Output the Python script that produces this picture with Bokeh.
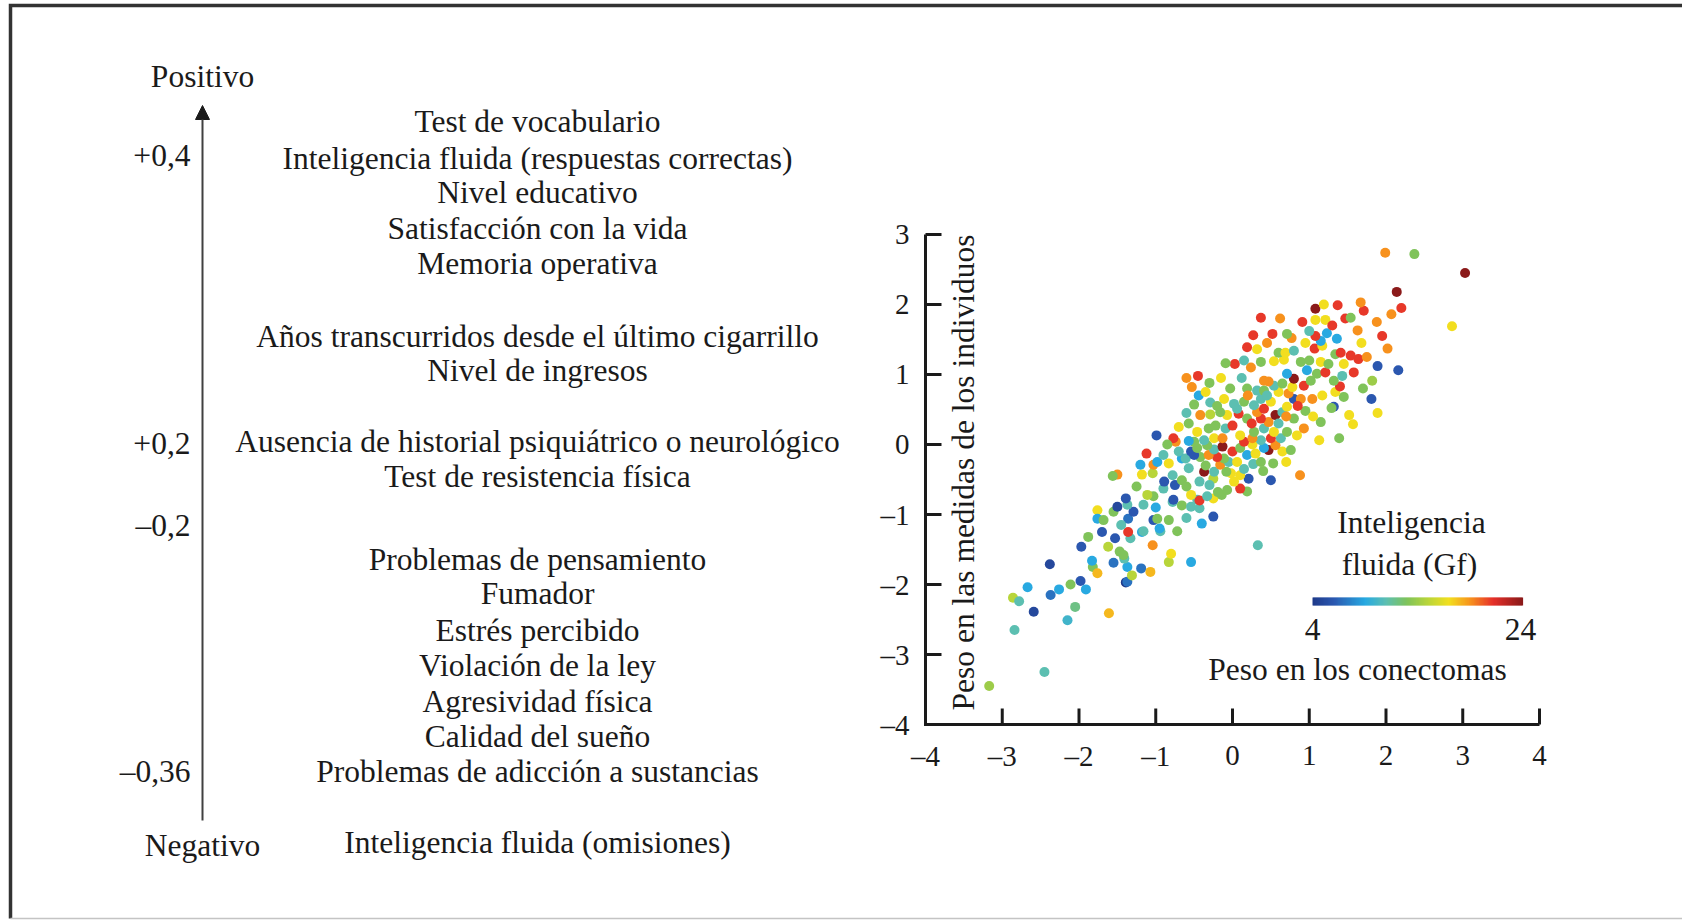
from math import pi

import numpy as np
from bokeh.core.properties import value
from bokeh.embed import file_html
from bokeh.models import Arrow, ColumnDataSource, NormalHead, Range1d
from bokeh.plotting import figure
from bokeh.resources import INLINE
from bokeh.transform import linear_cmap

# ---------------------------------------------------------------- data
traits = [
    "Test de vocabulario",
    "Inteligencia fluida (respuestas correctas)",
    "Nivel educativo",
    "Satisfacción con la vida",
    "Memoria operativa",
    "Años transcurridos desde el último cigarrillo",
    "Nivel de ingresos",
    "Ausencia de historial psiquiátrico o neurológico",
    "Test de resistencia física",
    "Problemas de pensamiento",
    "Fumador",
    "Estrés percibido",
    "Violación de la ley",
    "Agresividad física",
    "Calidad del sueño",
    "Problemas de adicción a sustancias",
    "Inteligencia fluida (omisiones)",
]
scale_labels = ["+0,4", "+0,2", "–0,2", "–0,36"]
pole_labels = ["Positivo", "Negativo"]

# connectome weight (x), weight in individual measures (y), fluid intelligence (colour)
conn_weight = [
    -3.17, -2.45, -2.84, -2.86, -2.78, -2.59, -2.67, -2.38, -2.37, -2.26,
    -2.11, -1.98, -1.91, -2.05, -2.15, -1.82, -1.83, -1.76, -1.61, -1.55,
    -1.39, -1.37, -1.37, -1.31, -1.19, -1.07, -0.83, -0.54, -1.41, -1.97,
    -1.88, -1.62, -1.47, -1.42, -0.80, 0.33, -1.53, -1.33, -1.18, -1.04,
    -1.36, -1.16, -0.94, -0.72, -0.95, -0.40, -1.76, -1.76, -1.68, -1.36,
    -1.03, -0.98, -0.83, -0.25, -1.29, -1.55, -1.50, -1.37, -1.16, -0.66,
    -0.54, -0.43, -1.39, -0.78, -0.77, -0.46, -0.43, -0.25, -0.33, -1.03,
    -1.11, -0.54, -0.14, -0.19, -0.07, 0.19, 0.10, -0.90, -0.75, -0.89,
    -0.66, -0.43, 0.02, 0.21, 0.50, -0.25, -1.50, -1.56, -1.18, -1.04,
    -0.78, 0.10, 0.88, -0.02, -0.08, -0.37, -0.24, -0.57, -1.20, -1.03,
    -0.16, 0.27, 0.53, -0.83, -0.98, -0.05, 0.06, 0.37, -0.66, -0.61,
    -0.11, -0.42, -0.20, -0.50, -0.31, 0.19, -1.12, 0.30, -0.54, -0.70,
    0.65, 0.00, 0.47, 0.76, -0.24, -0.46, 0.10, 0.41, -0.13, -0.33,
    0.56, 0.26, 0.15, -0.74, -0.50, -0.57, 0.37, -0.37, 1.13, 0.26,
    0.50, 0.63, -0.24, -0.13, -0.77, 1.39, -0.99, 0.10, 0.84, -0.46,
    0.28, 0.54, 0.71, -0.31, -0.09, 0.41, 0.93, -0.22, 0.00, 1.57,
    -0.57, 0.47, 1.15, 0.19, 0.37, 0.80, -0.42, -0.07, 0.56, 1.52,
    -0.29, 0.08, 1.89, -0.16, 0.32, 0.65, 0.06, 0.41, 0.71, 1.32,
    1.29, 0.28, -0.50, 0.02, -0.29, 0.15, 0.50, -0.11, 0.37, 0.80,
    0.89, 1.04, 1.81, 1.45, -0.44, 1.17, 0.73, -0.35, 0.60, 1.34,
    0.32, 0.41, -0.03, 0.19, -0.53, 0.78, 1.40, 0.54, 0.93, 0.65,
    0.47, 0.41, 1.02, 1.32, 1.82, 0.80, 1.43, 0.71, 1.10, 1.21,
    1.58, 0.97, 2.16, 0.24, 1.89, 0.03, -0.09, 0.37, 0.89, 1.15,
    0.54, 1.00, 0.67, 1.64, 1.54, 1.34, 0.60, 0.69, 1.41, 0.80,
    0.32, 1.07, 2.02, 0.19, 1.17, 1.68, 1.15, 1.36, 0.77, 1.08,
    0.27, 0.52, 0.71, 1.23, 1.63, 2.86, 0.91, 1.88, 1.08, 1.21,
    1.47, 0.37, 1.54, 2.07, 1.71, 1.08, 2.20, 1.37, 1.19, 1.67,
    2.14, 3.03, 2.37, 1.99,
    -0.60, -0.45, -0.30, -0.15, 0.12, 0.25, 0.60, 0.70, 0.95, 1.05,
    0.85, 0.45, 0.20, -0.20, -0.60, -0.70, -0.85, -0.90, -0.35, 0.15,
    0.40, 0.70, -0.60, -0.30, -1.00, -1.25, -1.45, -0.60, -1.70, 0.95,
    1.25, 0.45, 1.00, 1.30, 0.62, 1.45, 1.75, 1.70, 1.95, 0.15,
]
indiv_weight = [
    -3.45, -3.25, -2.65, -2.19, -2.24, -2.39, -2.04, -1.71, -2.15, -2.07,
    -2.00, -1.95, -2.07, -2.32, -2.51, -1.75, -1.66, -1.84, -2.41, -1.69,
    -1.97, -1.96, -1.75, -1.87, -1.77, -1.82, -1.68, -1.68, -1.63, -1.46,
    -1.32, -1.46, -1.53, -1.58, -1.56, -1.44, -1.34, -1.34, -1.25, -1.44,
    -1.25, -1.24, -1.24, -1.24, -1.20, -1.13, -0.94, -1.06, -1.08, -1.06,
    -1.08, -1.06, -1.08, -1.03, -0.96, -0.96, -0.89, -0.86, -0.86, -0.87,
    -0.89, -0.91, -0.77, -0.82, -0.79, -0.79, -0.80, -0.77, -0.74, -0.74,
    -0.72, -0.72, -0.72, -0.68, -0.65, -0.67, -0.63, -0.63, -0.58, -0.53,
    -0.51, -0.53, -0.53, -0.49, -0.51, -0.49, -0.43, -0.45, -0.43, -0.41,
    -0.44, -0.44, -0.44, -0.41, -0.39, -0.39, -0.39, -0.34, -0.29, -0.29,
    -0.29, -0.28, -0.27, -0.27, -0.25, -0.25, -0.25, -0.25, -0.20, -0.20,
    -0.20, -0.18, -0.18, -0.15, -0.15, -0.15, -0.13, -0.13, -0.10, -0.10,
    -0.10, -0.10, -0.08, -0.08, -0.07, -0.05, -0.05, -0.05, -0.03, -0.01,
    -0.01, 0.00, 0.04, 0.04, 0.04, 0.05, 0.06, 0.06, 0.06, 0.09,
    0.09, 0.09, 0.09, 0.09, 0.09, 0.09, 0.13, 0.13, 0.13, 0.18,
    0.18, 0.18, 0.18, 0.23, 0.23, 0.23, 0.23, 0.27, 0.27, 0.29,
    0.30, 0.32, 0.32, 0.37, 0.37, 0.37, 0.42, 0.42, 0.42, 0.42,
    0.43, 0.44, 0.45, 0.46, 0.46, 0.46, 0.51, 0.51, 0.54, 0.54,
    0.52, 0.56, 0.57, 0.58, 0.60, 0.61, 0.61, 0.65, 0.65, 0.65,
    0.65, 0.65, 0.65, 0.68, 0.70, 0.70, 0.73, 0.75, 0.75, 0.75,
    0.77, 0.77, 0.80, 0.80, 0.82, 0.82, 0.83, 0.84, 0.84, 0.87,
    0.90, 0.91, 0.91, 0.91, 0.91, 0.94, 0.98, 1.01, 1.01, 1.03,
    1.03, 1.06, 1.06, 1.10, 1.12, 1.15, 1.16, 1.18, 1.18, 1.18,
    1.19, 1.20, 1.21, 1.22, 1.27, 1.29, 1.31, 1.31, 1.31, 1.34,
    1.36, 1.37, 1.37, 1.39, 1.41, 1.45, 1.48, 1.51, 1.52, 1.55,
    1.56, 1.58, 1.58, 1.59, 1.63, 1.69, 1.75, 1.75, 1.78, 1.78,
    1.80, 1.81, 1.81, 1.86, 1.91, 1.94, 1.95, 1.99, 2.00, 2.03,
    2.18, 2.45, 2.72, 2.74,
    0.95, 0.98, 0.88, 0.95, 0.95, 0.30, 0.30, 0.40, 0.48, 0.40,
    0.55, 0.70, 0.70, 0.55, 0.45, 0.25, 0.00, -0.15, -0.30, -0.35,
    -0.38, -0.25, -0.60, -0.58, -0.90, -0.60, -1.15, -1.05, -1.25, 1.45,
    1.15, 1.45, 1.62, 1.70, 1.80, 1.15, 1.25, 0.80, 1.55, 1.20,
]
gf_score = [
    14, 11, 11, 15, 11, 5, 9, 5, 7, 9,
    13, 6, 9, 12, 10, 13, 9, 18, 18, 7,
    4, 7, 9, 15, 7, 18, 15, 9, 11, 6,
    13, 15, 13, 13, 17, 11, 6, 11, 9, 19,
    21, 11, 11, 13, 9, 9, 17, 9, 13, 7,
    6, 13, 13, 6, 6, 13, 5, 11, 11, 13,
    11, 11, 6, 11, 6, 11, 21, 17, 11, 13,
    15, 17, 13, 13, 13, 13, 21, 11, 6, 6,
    13, 11, 17, 6, 6, 15, 19, 13, 17, 15,
    11, 17, 19, 17, 13, 24, 11, 11, 9, 19,
    19, 11, 13, 17, 9, 11, 17, 13, 9, 11,
    13, 13, 21, 6, 19, 9, 21, 17, 6, 11,
    17, 21, 24, 13, 11, 13, 13, 9, 24, 13,
    19, 17, 21, 19, 13, 9, 11, 11, 17, 19,
    21, 11, 17, 19, 21, 13, 6, 17, 17, 17,
    13, 17, 13, 13, 11, 11, 19, 13, 21, 17,
    13, 19, 13, 13, 21, 13, 19, 17, 24, 17,
    15, 21, 17, 13, 19, 11, 11, 21, 17, 6,
    13, 11, 13, 11, 11, 13, 17, 17, 11, 6,
    19, 19, 6, 13, 9, 17, 19, 17, 17, 17,
    11, 13, 13, 13, 19, 17, 21, 11, 21, 13,
    19, 19, 13, 13, 14, 24, 11, 9, 13, 21,
    21, 9, 6, 19, 6, 21, 13, 13, 13, 17,
    17, 13, 17, 21, 21, 13, 13, 17, 21, 11,
    17, 21, 19, 21, 17, 17, 9, 9, 19, 21,
    21, 21, 13, 9, 19, 17, 21, 19, 17, 17,
    21, 21, 13, 19, 21, 24, 21, 21, 17, 19,
    24, 24, 13, 19,
    19, 21, 13, 17, 11, 21, 11, 19, 13, 17,
    21, 11, 19, 13, 11, 17, 13, 11, 13, 11,
    13, 17, 13, 11, 9, 13, 11, 11, 6, 17,
    13, 19, 11, 21, 19, 17, 19, 13, 21, 11,
]

x_ticks = [-4, -3, -2, -1, 0, 1, 2, 3, 4]
y_ticks = [-4, -3, -2, -1, 0, 1, 2, 3]
gf_low, gf_high = 4, 24

x_title = "Peso en los conectomas"
y_title = "Peso en las medidas de los individuos"
legend_title = ["Inteligencia", "fluida (Gf)"]


def dash(v):
    """Format a number with an en dash as minus sign."""
    return f"–{abs(v)}" if v < 0 else f"{v}"


# ---------------------------------------------------------------- colours
anchors = [
    (0.00, "#1f3a8a"), (0.10, "#2b58b0"), (0.25, "#27a9e1"), (0.35, "#5dbfb1"),
    (0.45, "#7fc35a"), (0.55, "#b9d53a"), (0.65, "#f2df1f"), (0.75, "#f7941d"),
    (0.86, "#e6302a"), (1.00, "#8b1a1a"),
]


def build_palette(n=256):
    pos = [a[0] for a in anchors]
    rgb = np.array([[int(c[i:i + 2], 16) for i in (1, 3, 5)] for _, c in anchors], float)
    t = np.linspace(0, 1, n)
    chans = [np.interp(t, pos, rgb[:, k]) for k in range(3)]
    return ["#%02x%02x%02x" % tuple(int(round(c[i])) for c in chans) for i in range(n)]


palette = build_palette()
INK = "#1a1a1a"
FONT = value("Liberation Serif")
BODY = 31.5   # main text size, px
TICK = 29     # tick label size, px

# ---------------------------------------------------------------- canvas
W, H = 1682, 920
p = figure(
    width=W, height=H,
    x_range=Range1d(0, W), y_range=Range1d(H, 0),
    x_axis_location=None, y_axis_location=None,
    output_backend="svg", toolbar_location=None, min_border=0,
    background_fill_color="white", border_fill_color="white",
    outline_line_color=None,
)
p.grid.visible = False

# scatter coordinate system: (-4, -4) sits at pixel (925, 724)
PX_X, PX_Y = 76.75, 70.0
ORIG_X, ORIG_Y = 925, 724
sx0 = -4 - ORIG_X / PX_X
sy0 = -4 - (H - ORIG_Y) / PX_Y
p.extra_x_ranges = {"sx": Range1d(sx0, sx0 + W / PX_X)}
p.extra_y_ranges = {"sy": Range1d(sy0, sy0 + H / PX_Y)}
S = dict(x_range_name="sx", y_range_name="sy")

# page frame
p.line(x=[10, 10, W], y=[918, 5, 5], line_width=3.5, line_color="#333333", line_join="miter")
p.line(x=[10, W], y=[918, 918], line_width=1.5, line_color="#c4c4c4")


def text(x, y, s, size, align="center", angle=0.0, **kw):
    p.text(x=x, y=y, text=s, text_font=FONT, text_font_size=f"{size}px",
           text_align=align, text_baseline="middle", text_color=INK, angle=angle, **kw)


# ---------------------------------------------------------------- left panel
trait_rows = [121, 158, 192, 228, 263, 336, 370, 441, 476,
              559, 593, 630, 665, 701, 736, 771, 842]
text([537] * len(traits), trait_rows, traits, BODY)
text([190] * 4, [155, 443, 525, 771], scale_labels, BODY, align="right")
text([202, 202], [76, 845], pole_labels, BODY)
p.add_layout(Arrow(end=NormalHead(size=14, fill_color=INK, line_color=INK, line_width=1),
                   x_start=202, y_start=820, x_end=202, y_end=105,
                   line_width=2, line_color="#404040"))

# ---------------------------------------------------------------- scatter
src = ColumnDataSource(dict(x=conn_weight, y=indiv_weight, gf=gf_score))
p.scatter("x", "y", source=src, marker="circle", size=10,
          fill_color=linear_cmap("gf", palette, gf_low, gf_high),
          line_color=None, **S)

# axes drawn in the scatter's coordinate system
p.line(x=[x_ticks[0], x_ticks[0], x_ticks[-1]], y=[y_ticks[-1], y_ticks[0], y_ticks[0]],
       line_width=3, line_color=INK, line_join="miter", **S)
p.ray(x=x_ticks[1:], y=[y_ticks[0]] * (len(x_ticks) - 1), length=16, length_units="screen",
      angle=pi / 2, line_width=3, line_color=INK, **S)
p.ray(x=[x_ticks[0]] * (len(y_ticks) - 1), y=y_ticks[1:], length=16, length_units="screen",
      angle=0, line_width=3, line_color=INK, **S)
text(x_ticks, [y_ticks[0] - 31 / PX_Y] * len(x_ticks), [dash(v) for v in x_ticks], TICK, **S)
text([x_ticks[0] - 16 / PX_X] * len(y_ticks), y_ticks, [dash(v) for v in y_ticks], TICK,
     align="right", **S)
text([x_ticks[0] + 38 / PX_X], [y_ticks[0] + (ORIG_Y - 472) / PX_Y], [y_title], BODY,
     angle=pi / 2, **S)
text([1357], [669], [x_title], BODY)

# colour legend
BAR_L, BAR_R, BAR_T, BAR_B = 1312, 1522, 597, 605
steps = np.linspace(gf_low, gf_high, 211)
bar_x = BAR_L + (steps - gf_low) / (gf_high - gf_low) * (BAR_R - BAR_L)
bar = ColumnDataSource(dict(left=bar_x[:-1], right=bar_x[1:] + 0.6,
                            v=(steps[:-1] + steps[1:]) / 2))
p.quad(left="left", right="right", top=BAR_T, bottom=BAR_B, source=bar,
       fill_color=linear_cmap("v", palette, gf_low, gf_high), line_color=None)
text([1411, 1409], [522, 564], legend_title, BODY)
text([BAR_L, BAR_R - 2], [629, 629], [str(gf_low), str(gf_high)], BODY)

with open("out.html", "w") as f:
    f.write(file_html(p, INLINE))
